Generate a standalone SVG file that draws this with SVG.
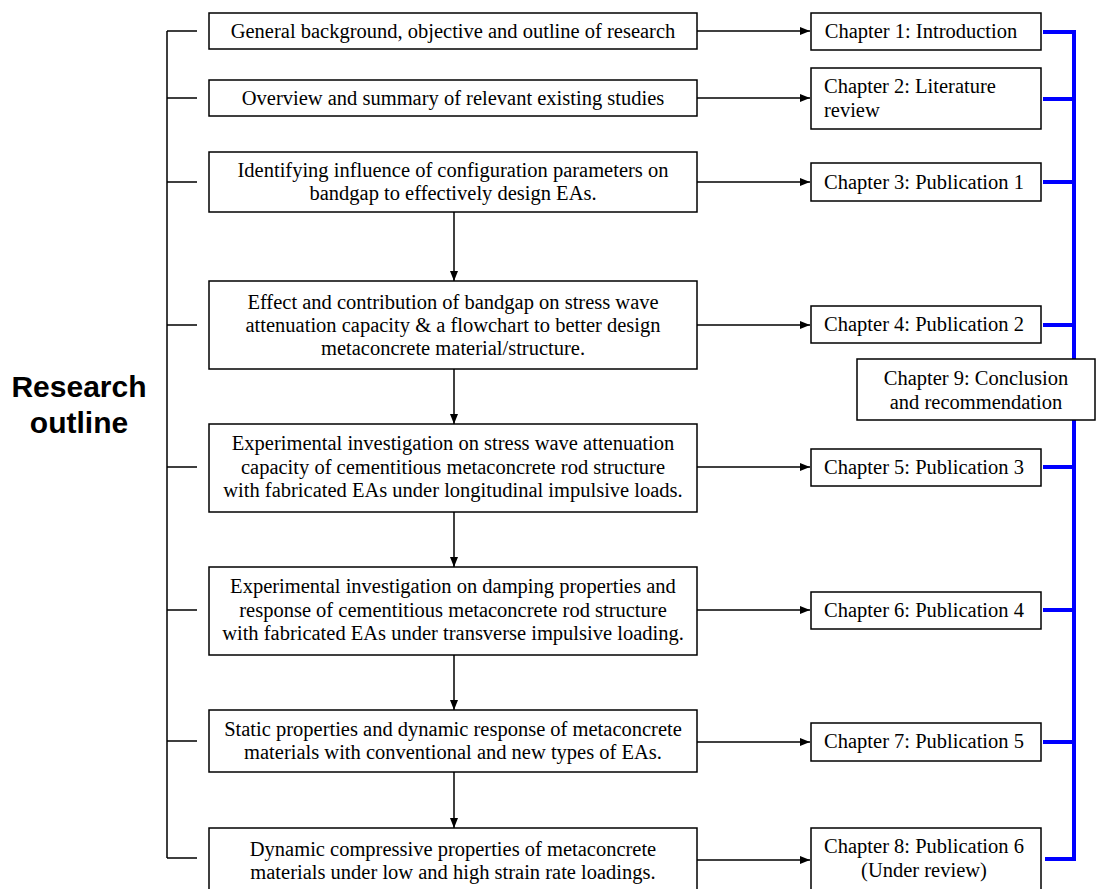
<svg xmlns="http://www.w3.org/2000/svg" width="1096" height="889" viewBox="0 0 1096 889">
<style>
.box{fill:#fff;stroke:#000;stroke-width:1.5}
.t{font-family:"Liberation Serif","Times New Roman",serif;font-size:20.5px;fill:#000;text-anchor:middle}
.c{font-family:"Liberation Serif","Times New Roman",serif;font-size:20.5px;fill:#000;text-anchor:middle}
.cl{font-family:"Liberation Serif","Times New Roman",serif;font-size:20.5px;fill:#000;text-anchor:start}
.ln{stroke:#000;stroke-width:1.5;fill:none}
.bl{stroke:#0000ff;stroke-width:4;fill:none}
.title{font-family:"Liberation Sans",Arial,sans-serif;font-weight:bold;font-size:30px;fill:#000;text-anchor:middle}
</style>
<defs>
<marker id="ah" markerWidth="10" markerHeight="8" refX="10" refY="4" orient="auto" markerUnits="userSpaceOnUse">
<path d="M0,0 L10,4 L0,8 Z" fill="#000"/>
</marker>
</defs>
<rect width="1096" height="889" fill="#fff"/>

<g id="title">
<text class="title" x="79" y="397">Research</text>
<text class="title" x="79" y="433">outline</text>
</g>

<g id="connectors">
<path class="ln" d="M167,31 V858 M167,31 H197 M167,98 H197 M167,182 H197 M167,325 H197 M167,467 H197 M167,610 H197 M167,741 H197 M167,858 H197"/>
<g marker-end="url(#ah)">
<line class="ln" x1="697" y1="31" x2="810" y2="31"/>
<line class="ln" x1="697" y1="98" x2="810" y2="98"/>
<line class="ln" x1="697" y1="182" x2="810" y2="182"/>
<line class="ln" x1="697" y1="325" x2="810" y2="325"/>
<line class="ln" x1="697" y1="467" x2="810" y2="467"/>
<line class="ln" x1="697" y1="610" x2="810" y2="610"/>
<line class="ln" x1="697" y1="742" x2="810" y2="742"/>
<line class="ln" x1="697" y1="860" x2="810" y2="860"/>
<line class="ln" x1="454" y1="212" x2="454" y2="281"/>
<line class="ln" x1="454" y1="369" x2="454" y2="424"/>
<line class="ln" x1="454" y1="512" x2="454" y2="567"/>
<line class="ln" x1="454" y1="655" x2="454" y2="710"/>
<line class="ln" x1="454" y1="772" x2="454" y2="828"/>
</g>
<path class="bl" d="M1043,32 H1074 V859 H1045 M1043,99 H1074 M1043,182 H1074 M1043,325 H1074 M1043,467 H1074 M1043,610 H1074 M1043,742 H1074"/>
</g>

<g id="box1"><rect class="box" x="209" y="13" width="488" height="36"/>
<text class="t" x="453" y="38">General background, objective and outline of research</text></g>
<g id="box2"><rect class="box" x="209" y="80" width="488" height="36"/>
<text class="t" x="453" y="105">Overview and summary of relevant existing studies</text></g>
<g id="box3"><rect class="box" x="209" y="152" width="488" height="60"/>
<text class="t" x="453" y="177">Identifying influence of configuration parameters on</text>
<text class="t" x="453" y="200">bandgap to effectively design EAs.</text></g>
<g id="box4"><rect class="box" x="209" y="281" width="488" height="88"/>
<text class="t" x="453" y="309">Effect and contribution of bandgap on stress wave</text>
<text class="t" x="453" y="332">attenuation capacity &amp; a flowchart to better design</text>
<text class="t" x="453" y="355">metaconcrete material/structure.</text></g>
<g id="box5"><rect class="box" x="209" y="424" width="488" height="88"/>
<text class="t" x="453" y="450">Experimental investigation on stress wave attenuation</text>
<text class="t" x="453" y="474">capacity of cementitious metaconcrete rod structure</text>
<text class="t" x="453" y="497">with fabricated EAs under longitudinal impulsive loads.</text></g>
<g id="box6"><rect class="box" x="209" y="567" width="488" height="88"/>
<text class="t" x="453" y="593">Experimental investigation on damping properties and</text>
<text class="t" x="453" y="617">response of cementitious metaconcrete rod structure</text>
<text class="t" x="453" y="640">with fabricated EAs under transverse impulsive loading.</text></g>
<g id="box7"><rect class="box" x="209" y="710" width="488" height="62"/>
<text class="t" x="453" y="736">Static properties and dynamic response of metaconcrete</text>
<text class="t" x="453" y="759">materials with conventional and new types of EAs.</text></g>
<g id="box8"><rect class="box" x="209" y="828" width="488" height="70"/>
<text class="t" x="453" y="856">Dynamic compressive properties of metaconcrete</text>
<text class="t" x="453" y="879">materials under low and high strain rate loadings.</text></g>

<g id="ch1"><rect class="box" x="811" y="13" width="230" height="37"/>
<text class="c" x="921" y="38">Chapter 1: Introduction</text></g>
<g id="ch2"><rect class="box" x="811" y="68" width="230" height="61"/>
<text class="cl" x="824" y="93">Chapter 2: Literature</text>
<text class="cl" x="824" y="117">review</text></g>
<g id="ch3"><rect class="box" x="811" y="163" width="230" height="38"/>
<text class="c" x="924" y="189">Chapter 3: Publication 1</text></g>
<g id="ch4"><rect class="box" x="811" y="306" width="230" height="37"/>
<text class="c" x="924" y="331">Chapter 4: Publication 2</text></g>
<g id="ch5"><rect class="box" x="811" y="449" width="230" height="37"/>
<text class="c" x="924" y="474">Chapter 5: Publication 3</text></g>
<g id="ch6"><rect class="box" x="811" y="592" width="230" height="37"/>
<text class="c" x="924" y="617">Chapter 6: Publication 4</text></g>
<g id="ch7"><rect class="box" x="811" y="723" width="230" height="38"/>
<text class="c" x="924" y="748">Chapter 7: Publication 5</text></g>
<g id="ch8"><rect class="box" x="811" y="828" width="230" height="70"/>
<text class="c" x="924" y="853">Chapter 8: Publication 6</text>
<text class="c" x="924" y="877">(Under review)</text></g>
<g id="ch9"><rect class="box" x="857" y="359" width="238" height="61"/>
<text class="c" x="976" y="385">Chapter 9: Conclusion</text>
<text class="c" x="976" y="409">and recommendation</text></g>
</svg>
